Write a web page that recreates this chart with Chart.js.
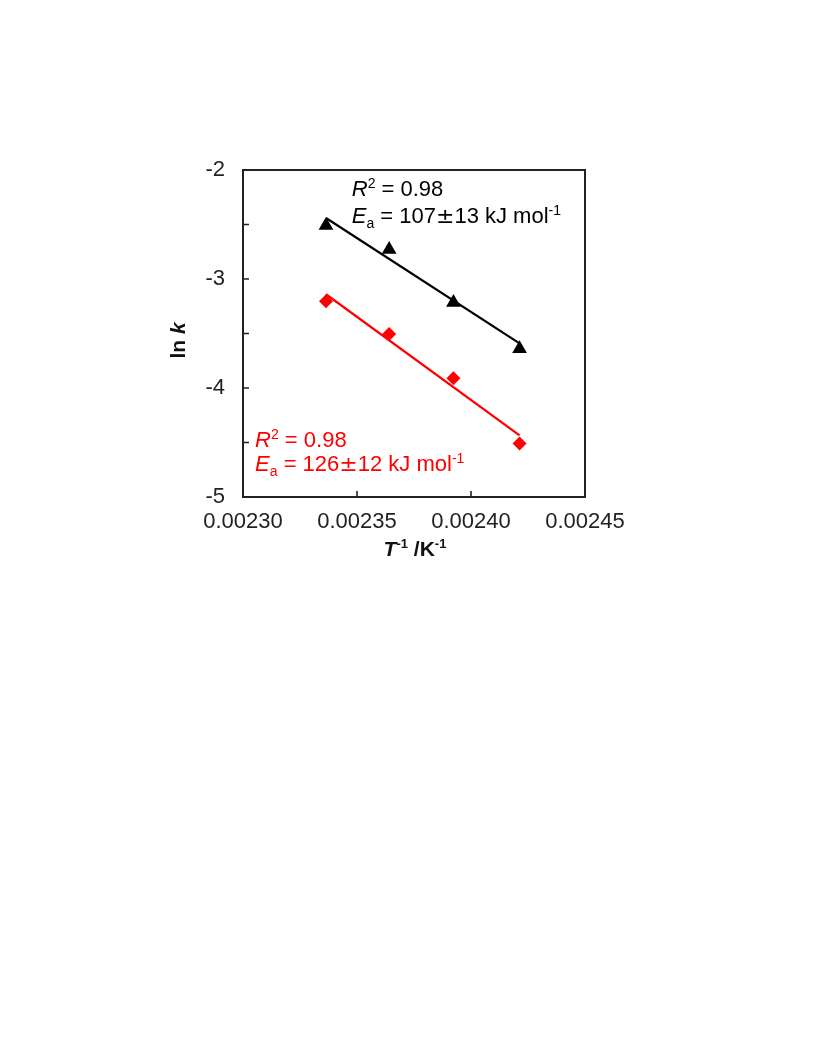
<!DOCTYPE html>
<html>
<head>
<meta charset="utf-8">
<script src="https://cdn.jsdelivr.net/npm/chart.js@4/dist/chart.umd.min.js"></script>
<style>
html,body{margin:0;padding:0;background:#fff;}
#wrap{width:816px;height:1056px;position:relative;}
</style>
</head>
<body>
<div id="wrap"><canvas id="c"></canvas></div>
<script>
// ---- data ----
const invT = [0.0023364, 0.0023641, 0.0023923, 0.0024213];      // T^-1 / K^-1
const lnkBlack = [-2.51, -2.73, -3.215, -3.64];                   // triangles
const lnkRed = [-3.205, -3.505, -3.91, -4.51];                    // diamonds
const fitX = [0.0023364, 0.0024213];                               // fit-line ends
const fitBlack = [-2.44, -3.59];
const fitRed = [-3.14, -4.435];
const xTicks = [0.00230, 0.00235, 0.00240, 0.00245];
const yTicks = [-2, -2.5, -3, -3.5, -4, -4.5, -5];

// annotation text (anchored in data coordinates)
const annBlack = [
  {x: 0.0023477, y: -2.238, segs: [{t:'R', it:true},{t:'2', sup:true},{t:' = 0.98'}]},
  {x: 0.0023477, y: -2.485, segs: [{t:'E', it:true},{t:'a', sub:true},{t:' = 107'},{t:'\u00B1', pm:true},{t:'13 kJ mol'},{t:'-1', sup:true}]}
];
const annRed = [
  {x: 0.0023053, y: -4.545, segs: [{t:'R', it:true},{t:'2', sup:true},{t:' = 0.98'}]},
  {x: 0.0023053, y: -4.76, segs: [{t:'E', it:true},{t:'a', sub:true},{t:' = 126'},{t:'\u00B1', pm:true},{t:'12 kJ mol'},{t:'-1', sup:true}]}
];

const FONT = '"Liberation Sans", Arial, Helvetica, sans-serif';
const PMFONT = '"DejaVu Sans", sans-serif';
const pts = (xs, ys) => xs.map((x, i) => ({x: x, y: ys[i]}));

function segFont(s, size) {
  let fs = (s.sup || s.sub) ? Math.round(size * 0.64) : size;
  const fam = s.pm ? PMFONT : FONT;
  return (s.it ? 'italic ' : '') + (s.bold ? 'bold ' : '') + fs + 'px ' + fam;
}
function drawRich(ctx, x, y, segs, color, size) {
  ctx.save();
  ctx.fillStyle = color;
  ctx.textBaseline = 'alphabetic';
  ctx.textAlign = 'left';
  let cx = x;
  for (const s of segs) {
    let dy = 0;
    if (s.sup) dy = -size * 0.36;
    if (s.sub) dy = size * 0.22;
    ctx.font = segFont(s, size);
    ctx.fillText(s.t, cx, y + dy);
    cx += ctx.measureText(s.t).width;
  }
  ctx.restore();
  return cx - x;
}
function richWidth(ctx, segs, size) {
  let w = 0;
  ctx.save();
  for (const s of segs) { ctx.font = segFont(s, size); w += ctx.measureText(s.t).width; }
  ctx.restore();
  return w;
}

const framePlugin = {
  id: 'frame',
  afterDraw(chart) {
    const ctx = chart.ctx, a = chart.chartArea;
    const xs = chart.scales.x, ys = chart.scales.y;
    ctx.save();
    // frame
    ctx.strokeStyle = '#222';
    ctx.lineWidth = 2;
    ctx.strokeRect(a.left, a.top, a.right - a.left, a.bottom - a.top);
    // inside ticks
    ctx.lineWidth = 1.6;
    ctx.beginPath();
    for (const v of yTicks) {
      const py = ys.getPixelForValue(v);
      if (py <= a.top + 1 || py >= a.bottom - 1) continue;
      ctx.moveTo(a.left, py); ctx.lineTo(a.left + 6, py);
    }
    for (const v of xTicks) {
      const px = xs.getPixelForValue(v);
      if (px <= a.left + 1 || px >= a.right - 1) continue;
      ctx.moveTo(px, a.bottom); ctx.lineTo(px, a.bottom - 6);
    }
    ctx.stroke();
    // annotations
    for (const t of annBlack) drawRich(ctx, xs.getPixelForValue(t.x), ys.getPixelForValue(t.y), t.segs, '#000', 22);
    for (const t of annRed) drawRich(ctx, xs.getPixelForValue(t.x), ys.getPixelForValue(t.y), t.segs, '#ff0000', 22);
    // x axis title
    const xt = [{t:'T', bold:true, it:true},{t:'-1', sup:true, bold:true},{t:' /K', bold:true},{t:'-1', sup:true, bold:true}];
    const wx = richWidth(ctx, xt, 21);
    drawRich(ctx, (a.left + a.right) / 2 + 1 - wx / 2, a.bottom + 59, xt, '#111', 21);
    // y axis title
    const yt = [{t:'ln ', bold:true},{t:'k', bold:true, it:true}];
    const wy = richWidth(ctx, yt, 21);
    ctx.save();
    ctx.translate(a.left - 58, (a.top + a.bottom) / 2 + 7);
    ctx.rotate(-Math.PI / 2);
    drawRich(ctx, -wy / 2, 0, yt, '#111', 21);
    ctx.restore();
    ctx.restore();
  }
};

new Chart(document.getElementById('c'), {
  type: 'scatter',
  data: {
    datasets: [
      {label: 'black', data: pts(invT, lnkBlack), pointStyle: 'triangle', pointRadius: 8.5,
       backgroundColor: '#000', borderColor: '#000', borderWidth: 0, showLine: false},
      {label: 'red', data: pts(invT, lnkRed), pointStyle: 'rectRot', pointRadius: 7,
       backgroundColor: '#ff0000', borderColor: '#ff0000', borderWidth: 0, showLine: false},
      {label: 'fit black', data: pts(fitX, fitBlack), showLine: true, pointRadius: 0,
       borderColor: '#000', borderWidth: 2.2, fill: false},
      {label: 'fit red', data: pts(fitX, fitRed), showLine: true, pointRadius: 0,
       borderColor: '#ff0000', borderWidth: 2.2, fill: false}
    ]
  },
  options: {
    responsive: true,
    maintainAspectRatio: false,
    animation: false,
    events: [],
    layout: {padding: {left: 183, right: 231, top: 170, bottom: 509}},
    plugins: {legend: {display: false}, tooltip: {enabled: false}},
    scales: {
      x: {
        type: 'linear', min: 0.00230, max: 0.00245,
        afterFit: s => { s.height = 50; },
        afterBuildTicks: s => { s.ticks = xTicks.map(v => ({value: v})); },
        grid: {display: false, drawTicks: false},
        border: {display: false},
        ticks: {padding: 12, color: '#222', font: {family: FONT, size: 22},
                maxRotation: 0, autoSkip: false,
                callback: v => Number(v).toFixed(5)}
      },
      y: {
        type: 'linear', min: -5, max: -2,
        afterFit: s => { s.width = 60; },
        afterBuildTicks: s => { s.ticks = [-5, -4, -3, -2].map(v => ({value: v})); },
        grid: {display: false, drawTicks: false},
        border: {display: false},
        ticks: {padding: 18, color: '#222', font: {family: FONT, size: 22},
                autoSkip: false, callback: v => String(v)}
      }
    }
  },
  plugins: [framePlugin]
});
</script>
</body>
</html>
